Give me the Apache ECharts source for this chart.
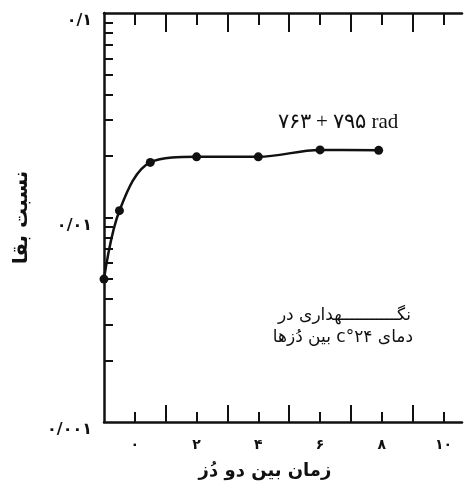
<!DOCTYPE html>
<html>
<head>
<meta charset="utf-8">
<script src="https://cdn.jsdelivr.net/npm/echarts@6/dist/echarts.min.js"></script>
<style>
  html, body { margin: 0; padding: 0; background: #fff; }
  #chart { width: 468px; height: 491px; }
</style>
</head>
<body>
<div id="chart"></div>
<script>
// زمان بین دو دز (x) و نسبت بقا (y، لگاریتمی)
const doseGap = [-1, -0.5, 0.5, 2, 4, 6, 7.9]
const survival = [0.0050, 0.0108, 0.0186, 0.0198, 0.0198, 0.0214, 0.0213]

const xLabelTicks = [0, 2, 4, 6, 8, 10]
const xLabelText = ['۰', '۲', '۴', '۶', '۸', '۱۰']
const xLongTicks = [1, 3, 5, 7, 9]

const yLabelTicks = [0.001, 0.01, 0.1]
const yLabelText = ['۰/۰۰۱', '۰/۰۱', '۰/۱']
const yMinorTicks = [0.002, 0.003, 0.004, 0.005, 0.006, 0.007, 0.008, 0.009,
  0.01, 0.02, 0.03, 0.04, 0.05, 0.06, 0.07, 0.08, 0.09]

const doseText = '۷۶۳ + ۷۹۵ rad'
const noteLine1 = 'نگـــــــــــهداری در'
const noteLine2 = '\u2067دمای ۲۴°c بین دُزها\u2069'
const xTitle = 'زمان بین دو دُز'
const yTitle = 'نسبت بقا'

const ink = '#111'
const persianFont = '"DejaVu Sans", sans-serif'

function xAxisDef(position, ticks, len, showLine, showLabel) {
  return {
    type: 'value',
    position: position,
    min: -1,
    max: 10.6,
    splitLine: { show: false },
    axisLine: { show: showLine, onZero: false, lineStyle: { color: ink, width: 2.5 } },
    axisTick: { show: true, inside: true, length: len, customValues: ticks, lineStyle: { color: ink, width: 2 } },
    axisLabel: {
      show: showLabel,
      customValues: xLabelTicks,
      formatter: function (v) {
        const i = xLabelTicks.indexOf(Math.round(v))
        return i >= 0 ? xLabelText[i] : ''
      },
      margin: 16,
      color: ink,
      fontSize: 14,
      fontWeight: 'bold',
      fontFamily: persianFont
    }
  }
}

const chart = echarts.init(document.getElementById('chart'))

chart.setOption({
  backgroundColor: '#fff',
  animation: false,
  grid: { left: 104, right: 6, top: 13, bottom: 69, containLabel: false, outerBoundsMode: 'none' },
  xAxis: [
    xAxisDef('bottom', xLabelTicks, 10, true, true),
    xAxisDef('bottom', xLongTicks, 17, false, false),
    xAxisDef('top', xLabelTicks, 12, true, false),
    xAxisDef('top', xLongTicks, 19, false, false)
  ],
  yAxis: [{
    type: 'log',
    logBase: 10,
    min: 0.001,
    max: 0.1,
    name: yTitle,
    nameLocation: 'middle',
    nameRotate: 90,
    nameGap: 72,
    nameTextStyle: { color: ink, fontSize: 20, fontWeight: 'bold', fontFamily: persianFont },
    splitLine: { show: false },
    axisLine: { show: true, onZero: false, lineStyle: { color: ink, width: 2.5 } },
    axisTick: { show: true, inside: true, length: 9, customValues: yMinorTicks, lineStyle: { color: ink, width: 2 } },
    axisLabel: {
      customValues: yLabelTicks,
      formatter: function (v) {
        const i = yLabelTicks.findIndex(t => Math.abs(t - v) / t < 1e-6)
        return i >= 0 ? yLabelText[i] : ''
      },
      margin: 12,
      color: ink,
      fontSize: 16,
      fontWeight: 'bold',
      fontFamily: persianFont,
      verticalAlign: 'top'
    }
  }],
  series: [{
    type: 'line',
    xAxisIndex: 0,
    yAxisIndex: 0,
    data: doseGap.map((x, i) => [x, survival[i]]),
    smooth: 0.35,
    symbol: 'circle',
    symbolSize: 9,
    clip: false,
    lineStyle: { color: ink, width: 2.5 },
    itemStyle: { color: ink }
  }],
  graphic: [
    {
      type: 'text', x: 338, y: 122,
      style: { text: doseText, align: 'center', verticalAlign: 'middle', fill: ink,
        font: '21px "Liberation Serif", "DejaVu Serif", serif' }
    },
    {
      type: 'text', x: 411, y: 316,
      style: { text: noteLine1, align: 'right', verticalAlign: 'middle', fill: ink,
        font: '17px ' + persianFont }
    },
    {
      type: 'text', x: 413, y: 338,
      style: { text: noteLine2, align: 'right', verticalAlign: 'middle', fill: ink,
        font: '17px ' + persianFont }
    },
    {
      type: 'text', x: 265, y: 471,
      style: { text: xTitle, align: 'center', verticalAlign: 'middle', fill: ink,
        font: 'bold 18px ' + persianFont }
    }
  ]
})
</script>
</body>
</html>
